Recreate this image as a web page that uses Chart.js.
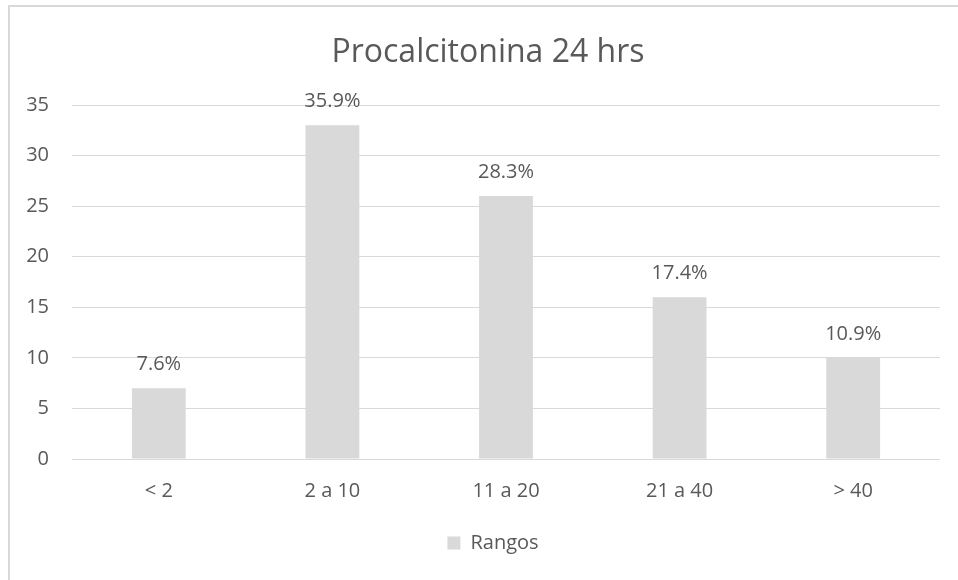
<!DOCTYPE html>
<html>
<head>
<meta charset="utf-8">
<script src="https://cdn.jsdelivr.net/npm/chart.js@4/dist/chart.umd.min.js"></script>
<style>
  html, body { margin: 0; padding: 0; background: #ffffff; overflow: hidden; }
  #wrap { position: relative; width: 958px; height: 580px; }
  #frame { position: absolute; left: 8px; top: 5px; width: 1200px; height: 900px;
           border-left: 2px solid #d9d9d9; border-top: 2px solid #d9d9d9; box-sizing: border-box; }
  canvas { position: absolute; left: 0; top: 0; }
</style>
</head>
<body>
<div id="wrap">
  <div id="frame"></div>
  <canvas id="c" width="958" height="580"></canvas>
</div>
<script>
const categories = ["< 2", "2 a 10", "11 a 20", "21 a 40", "> 40"];
const values = [7, 33, 26, 16, 10];
const percentLabels = ["7.6%", "35.9%", "28.3%", "17.4%", "10.9%"];
const yTicks = [0, 5, 10, 15, 20, 25, 30, 35];
const seriesName = "Rangos";
const chartTitle = "Procalcitonina 24 hrs";

const TEXT = "#595959";
const GRID = "#d9d9d9";
const FONT = "'Open Sans', sans-serif";

const dataLabelPlugin = {
  id: "dataLabels",
  afterDatasetsDraw(chart) {
    const ctx = chart.ctx;
    const meta = chart.getDatasetMeta(0);
    ctx.save();
    ctx.fillStyle = TEXT;
    ctx.font = "20px " + FONT;
    ctx.textAlign = "center";
    ctx.textBaseline = "alphabetic";
    meta.data.forEach((bar, i) => {
      ctx.fillText(percentLabels[i], bar.x, bar.y - 18);
    });
    ctx.restore();
  }
};

// The original chart frame is wider than the visible picture, so title and legend sit right of the plot centre.
const shiftPlugin = {
  id: "shiftBlocks",
  afterLayout(chart) {
    if (chart.titleBlock) { chart.titleBlock.left += 18; chart.titleBlock.right += 18; }
    if (chart.legend) { chart.legend.left += 23; chart.legend.right += 23; }
  }
};

new Chart(document.getElementById("c"), {
  type: "bar",
  data: {
    labels: categories,
    datasets: [{
      label: seriesName,
      data: values,
      backgroundColor: GRID,
      borderWidth: 0,
      barPercentage: 0.31,
      categoryPercentage: 1.0
    }]
  },
  options: {
    responsive: false,
    animation: false,
    devicePixelRatio: 1,
    layout: { padding: { left: 0, right: 18, top: 0, bottom: 17 } },
    plugins: {
      title: {
        display: true,
        text: chartTitle,
        color: TEXT,
        font: { family: FONT, size: 32, weight: "normal" },
        padding: { top: 34, bottom: 32.6 }
      },
      legend: {
        display: true,
        position: "bottom",
        labels: {
          color: TEXT,
          font: { family: FONT, size: 20 },
          boxWidth: 13,
          boxHeight: 13,
          padding: 10
        }
      },
      tooltip: { enabled: false }
    },
    scales: {
      x: {
        grid: { display: false, drawTicks: false },
        border: { display: false },
        ticks: { color: TEXT, font: { family: FONT, size: 20 }, padding: 20, maxRotation: 0 },
        afterFit(scale) { scale.height = 64; }
      },
      y: {
        min: 0,
        max: 35,
        afterBuildTicks(scale) { scale.ticks = yTicks.map(v => ({ value: v })); },
        grid: { color: GRID, lineWidth: 1, drawTicks: false },
        border: { display: false },
        ticks: { color: TEXT, font: { family: FONT, size: 20 }, padding: 23 },
        afterFit(scale) { scale.width = 72; }
      }
    }
  },
  plugins: [dataLabelPlugin, shiftPlugin]
});
</script>
</body>
</html>
